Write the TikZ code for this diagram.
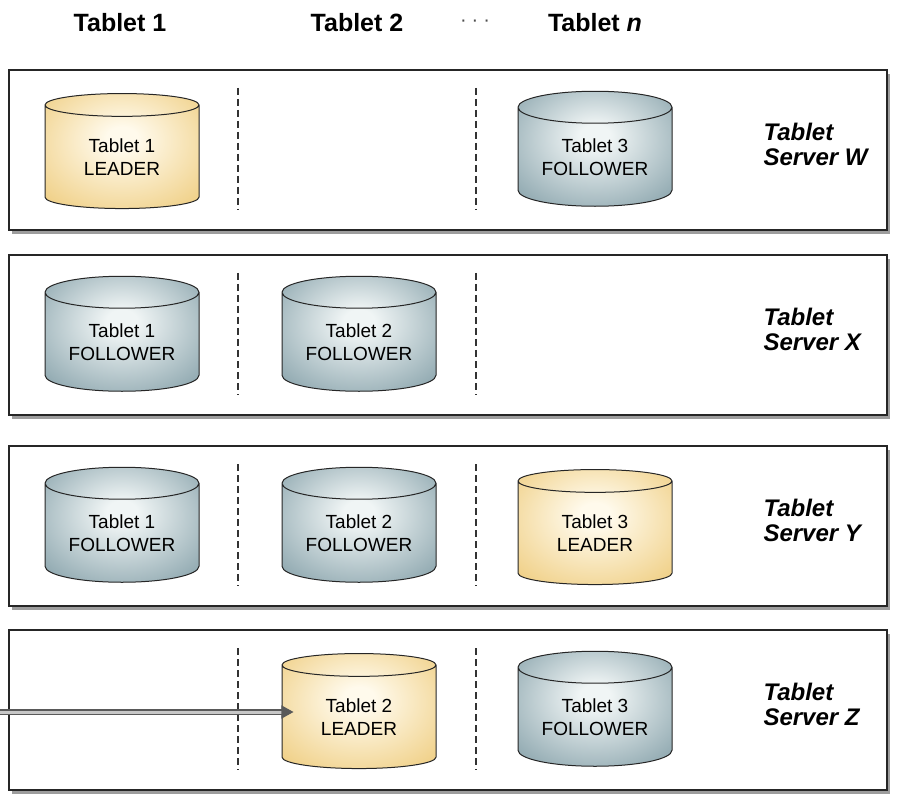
\documentclass[tikz,border=0pt]{standalone}
\usepackage{fontspec}
\setmainfont{Liberation Sans}
\usetikzlibrary{shapes.geometric,shadows,arrows.meta}
\definecolor{leadin}{RGB}{255,250,236}
\definecolor{leadout}{RGB}{232,186,82}
\definecolor{follin}{RGB}{240,245,245}
\definecolor{follout}{RGB}{90,126,138}
\pgfdeclareradialshading{leadshade}{\pgfpoint{0bp}{6bp}}{color(0bp)=(leadin); color(5bp)=(leadin); color(50bp)=(leadout); color(60bp)=(leadout)}
\pgfdeclareradialshading{follshade}{\pgfpoint{0bp}{6bp}}{color(0bp)=(follin); color(5bp)=(follin); color(50bp)=(follout); color(60bp)=(follout)}

\begin{document}
\begin{tikzpicture}[x=1pt,y=-1pt,
  srv/.style={draw=black!85,line width=1.3pt,fill=white,minimum width=878pt,minimum height=160pt,inner sep=0pt,
    drop shadow={shadow xshift=2.5pt,shadow yshift=-4pt,opacity=0.55,fill=black!70}},
  tab/.style={cylinder,shape border rotate=90,aspect=0.3,draw=black!85,line width=1pt,yshift=-7pt,
    minimum width=154pt,minimum height=115pt,inner sep=0pt,font=\fontsize{19}{23}\selectfont,align=center},
  lead/.style={tab,shading=leadshade},
  foll/.style={tab,shading=follshade},
  srvname/.style={font=\fontsize{24}{25}\selectfont\bfseries\itshape,align=left,anchor=west},
  head/.style={font=\fontsize{25}{30}\selectfont\bfseries},
  sep/.style={dash pattern=on 7pt off 4pt,line width=1.7pt,black!80},
  feed/.style={draw=black!65,double=black!22,line width=1.3pt,double distance=3pt,
    -{Triangle[length=12pt,width=13pt]},shorten >=-12pt}]
\useasboundingbox (0,0) rectangle (897,794);
\def\CA{122}\def\CB{359}\def\CC{595}
\def\RW{150}\def\RX{335}\def\RY{526}\def\RZ{710}
% column heads
\node[head] (h1) at (120,23) {Tablet 1};
\node[head] (h2) at (357,23) {Tablet 2};
\node[head,font=\fontsize{20}{24}\selectfont,text=black!70] (hdots) at (475,23) {\textperiodcentered\hspace{5pt}\textperiodcentered\hspace{5pt}\textperiodcentered};
\node[head] (hn) at (595,23) {Tablet \textit{n}};
% servers
\node[srv] (srvW) at (448,\RW) {};
\node[srv] (srvX) at (448,\RX) {};
\node[srv] (srvY) at (448,\RY) {};
\node[srv] (srvZ) at (448,\RZ) {};
\foreach \r in {\RW,\RX,\RY,\RZ} {
  \draw[sep] (238,\r-62) -- (238,\r+60);
  \draw[sep] (476,\r-62) -- (476,\r+60);
}
\node[srvname] (nW) at (760,\RW-6) {Tablet\\Server W};
\node[srvname] (nX) at (760,\RX-6) {Tablet\\Server X};
\node[srvname] (nY) at (760,\RY-6) {Tablet\\Server Y};
\node[srvname] (nZ) at (760,\RZ-6) {Tablet\\Server Z};
% tablets
\node[lead] (t1w) at (\CA,\RW) {Tablet 1\\LEADER};
\node[foll] (t3w) at (\CC,\RW) {Tablet 3\\FOLLOWER};
\node[foll] (t1x) at (\CA,\RX) {Tablet 1\\FOLLOWER};
\node[foll] (t2x) at (\CB,\RX) {Tablet 2\\FOLLOWER};
\node[foll] (t1y) at (\CA,\RY) {Tablet 1\\FOLLOWER};
\node[foll] (t2y) at (\CB,\RY) {Tablet 2\\FOLLOWER};
\node[lead] (t3y) at (\CC,\RY) {Tablet 3\\LEADER};
\node[lead] (t2z) at (\CB,\RZ) {Tablet 2\\LEADER};
\node[foll] (t3z) at (\CC,\RZ) {Tablet 3\\FOLLOWER};
% incoming request
\coordinate (src) at (0,712);
\draw[feed] (src) -- (src -| t2z.west);
\end{tikzpicture}
\end{document}
